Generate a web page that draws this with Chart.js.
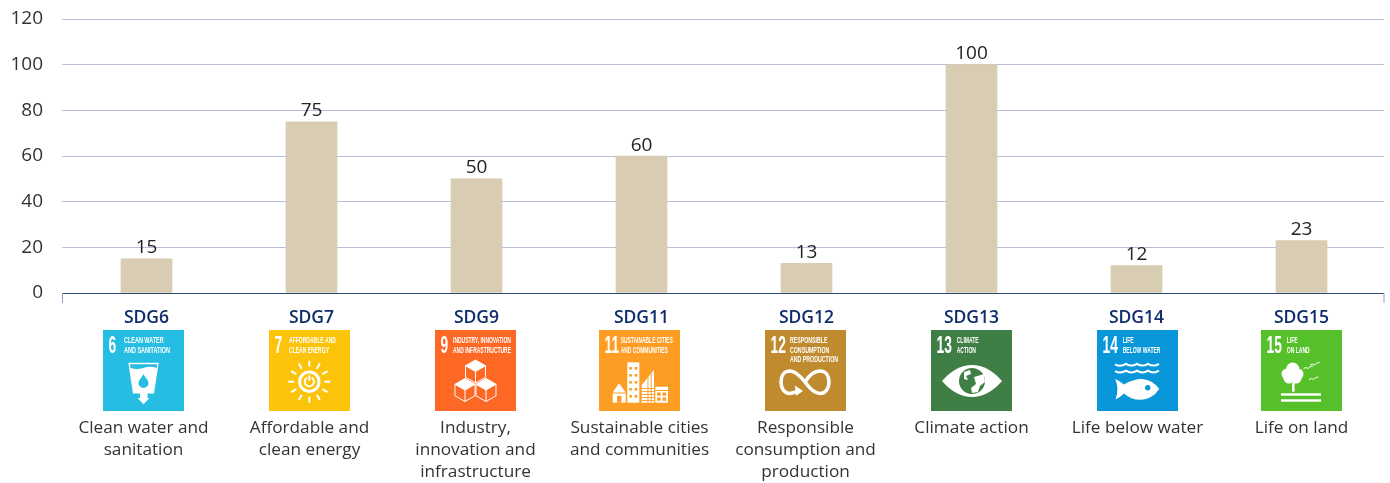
<!DOCTYPE html>
<html>
<head>
<meta charset="utf-8">
<title>SDG chart</title>
<script src="https://cdn.jsdelivr.net/npm/chart.js@4"></script>
<style>
    html, body { margin: 0; padding: 0; background: #fff; }
    #chart { position: absolute; left: 0; top: 0; }
</style>
</head>
<body>
<canvas id="chart" width="1390" height="483"></canvas>
<script>
const categories = ['SDG6', 'SDG7', 'SDG9', 'SDG11', 'SDG12', 'SDG13', 'SDG14', 'SDG15'];
const values = [15, 75, 50, 60, 13, 100, 12, 23];
const yTicks = [0, 20, 40, 60, 80, 100, 120];
const descriptions = [
    ['Clean water and', 'sanitation'],
    ['Affordable and', 'clean energy'],
    ['Industry,', 'innovation and', 'infrastructure'],
    ['Sustainable cities', 'and communities'],
    ['Responsible', 'consumption and', 'production'],
    ['Climate action'],
    ['Life below water'],
    ['Life on land']
];
const iconNumbers = ['6', '7', '9', '11', '12', '13', '14', '15'];
const iconTitles = [
    ['CLEAN WATER', 'AND SANITATION'],
    ['AFFORDABLE AND', 'CLEAN ENERGY'],
    ['INDUSTRY, INNOVATION', 'AND INFRASTRUCTURE'],
    ['SUSTAINABLE CITIES', 'AND COMMUNITIES'],
    ['RESPONSIBLE', 'CONSUMPTION', 'AND PRODUCTION'],
    ['CLIMATE', 'ACTION'],
    ['LIFE', 'BELOW WATER'],
    ['LIFE', 'ON LAND']
];
const iconColors = ['#26bde2', '#fcc30b', '#fd6925', '#fd9d24', '#bf8b2e', '#3f7e44', '#0a97d9', '#56c02b'];

// layout of the strip under the axis
const iconNudge = [-3, -2, -1, -2, -1, 0, 1, 0];
const iconTitleX = [21, 20, 18, 21.7, 25, 25.7, 25.7, 25.7];
const iconTitleWidth = [46, 47, 58, 52, 48, 22, 37.7, 23];
const iconSize = 81;
const iconTop = 330;

const TEXT_FONT = '"Open Sans", sans-serif';
const WHITE = '#ffffff';

function fitText(ctx, lines, x, firstY, step, targetWidth) {
    let widest = 0;
    lines.forEach(line => { widest = Math.max(widest, ctx.measureText(line).width); });
    const ratio = targetWidth / widest;
    lines.forEach((line, i) => {
        ctx.save();
        ctx.translate(x, firstY + i * step);
        ctx.scale(ratio, 1);
        ctx.fillText(line, 0, 0);
        ctx.restore();
    });
}

function drawGlass(ctx, color) {
    ctx.fillStyle = WHITE;
    ctx.beginPath();
    ctx.moveTo(25.3, 32.7); ctx.lineTo(55.7, 32.7); ctx.lineTo(51, 63.5);
    ctx.lineTo(44.5, 63.5); ctx.lineTo(44.5, 68); ctx.lineTo(46.5, 68); ctx.lineTo(40.5, 74.2);
    ctx.lineTo(34.5, 68); ctx.lineTo(37, 68); ctx.lineTo(37, 63.5); ctx.lineTo(30, 63.5);
    ctx.closePath();
    ctx.fill();
    ctx.fillStyle = color;
    ctx.beginPath();
    ctx.moveTo(27, 34.2); ctx.lineTo(54, 34.2); ctx.lineTo(53.6, 38);
    ctx.quadraticCurveTo(47, 35.5, 40.5, 38);
    ctx.quadraticCurveTo(34, 40, 27.5, 38);
    ctx.closePath();
    ctx.fill();
    // drop
    ctx.beginPath();
    ctx.moveTo(40.5, 44);
    ctx.bezierCurveTo(42, 47.5, 45.5, 50, 45.5, 53);
    ctx.arc(40.5, 53, 5, 0, Math.PI);
    ctx.bezierCurveTo(35.5, 50, 39, 47.5, 40.5, 44);
    ctx.fill();
}

function drawSun(ctx, color) {
    const cx = 40.3, cy = 51.7;
    ctx.strokeStyle = WHITE;
    ctx.lineWidth = 2;
    for (let i = 0; i < 12; i++) {
        const a = i * Math.PI / 6;
        ctx.beginPath();
        ctx.moveTo(cx + Math.cos(a) * 15, cy + Math.sin(a) * 15);
        ctx.lineTo(cx + Math.cos(a) * 21, cy + Math.sin(a) * 21);
        ctx.stroke();
    }
    ctx.lineWidth = 3;
    ctx.beginPath();
    ctx.arc(cx, cy, 9.7, 0, Math.PI * 2);
    ctx.stroke();
    ctx.lineWidth = 2;
    ctx.beginPath();
    ctx.arc(cx, cy, 4.6, -Math.PI / 3, Math.PI * 4 / 3);
    ctx.stroke();
    ctx.beginPath();
    ctx.moveTo(cx, cy - 6.5);
    ctx.lineTo(cx, cy - 1);
    ctx.stroke();
}

function drawCube(ctx, cx, cy, r) {
    const w = r * 0.87, h = r / 2;
    ctx.beginPath();
    ctx.moveTo(cx, cy - r); ctx.lineTo(cx + w, cy - h); ctx.lineTo(cx + w, cy + h);
    ctx.lineTo(cx, cy + r); ctx.lineTo(cx - w, cy + h); ctx.lineTo(cx - w, cy - h);
    ctx.closePath();
    ctx.moveTo(cx - w, cy - h); ctx.lineTo(cx, cy); ctx.lineTo(cx + w, cy - h);
    ctx.moveTo(cx, cy); ctx.lineTo(cx, cy + r);
    ctx.stroke();
    ctx.beginPath();
    ctx.moveTo(cx, cy - r); ctx.lineTo(cx + w, cy - h); ctx.lineTo(cx, cy); ctx.lineTo(cx - w, cy - h);
    ctx.closePath();
    ctx.fill();
}

function drawCubes(ctx) {
    ctx.strokeStyle = WHITE;
    ctx.fillStyle = WHITE;
    ctx.lineWidth = 1;
    drawCube(ctx, 40.5, 41.5, 11.5);
    drawCube(ctx, 30, 60, 11.5);
    drawCube(ctx, 51, 60, 11.5);
}

function drawCity(ctx, color) {
    ctx.fillStyle = WHITE;
    // house
    ctx.beginPath();
    ctx.moveTo(20, 53.3); ctx.lineTo(26.7, 62.5); ctx.lineTo(13.7, 62.5);
    ctx.closePath();
    ctx.fill();
    ctx.fillRect(13.7, 63.5, 13, 9.2);
    // tower
    ctx.fillRect(28.3, 32.3, 12, 40.4);
    // slanted block
    ctx.beginPath();
    ctx.moveTo(42.7, 55); ctx.lineTo(55, 40); ctx.lineTo(55, 72.7); ctx.lineTo(42.7, 72.7);
    ctx.closePath();
    ctx.fill();
    // low block
    ctx.fillRect(56.3, 56.7, 12.7, 16);
    ctx.fillStyle = color;
    ctx.fillRect(18, 66, 4.4, 6.7);
    for (let row = 0; row < 5; row++) {
        ctx.fillRect(30.3, 37 + row * 7, 2.6, 2.6);
        ctx.fillRect(35.7, 37 + row * 7, 2.6, 2.6);
    }
    for (let row = 0; row < 5; row++) {
        ctx.fillRect(42.7, 58 + row * 3, 12.3, 0.9);
    }
    ctx.fillRect(48.5, 44, 0.9, 29);
    ctx.fillRect(51.8, 44, 0.9, 29);
    ctx.fillRect(56.3, 60, 12.7, 1);
    for (let row = 0; row < 2; row++) {
        ctx.fillRect(58, 62.5 + row * 5, 3.7, 3.2);
        ctx.fillRect(63.5, 62.5 + row * 5, 3.7, 3.2);
    }
}

function drawInfinity(ctx) {
    ctx.strokeStyle = WHITE;
    ctx.fillStyle = WHITE;
    ctx.lineWidth = 3.6;
    ctx.beginPath();
    ctx.moveTo(40, 52);
    ctx.bezierCurveTo(46, 42, 52, 41, 55, 41);
    ctx.bezierCurveTo(61, 41, 64, 46, 64, 52);
    ctx.bezierCurveTo(64, 58, 61, 63.5, 55, 63.5);
    ctx.bezierCurveTo(50, 63.5, 45, 59, 40, 52);
    ctx.bezierCurveTo(36, 47, 31, 41, 25, 41);
    ctx.bezierCurveTo(19, 41, 16, 46, 16, 52);
    ctx.bezierCurveTo(16, 58, 19, 63.5, 25, 63.5);
    ctx.lineTo(35, 61);
    ctx.stroke();
    ctx.beginPath();
    ctx.moveTo(30, 55.5); ctx.lineTo(38, 61); ctx.lineTo(31, 65.8);
    ctx.closePath();
    ctx.fill();
}

function drawEye(ctx, color) {
    const cx = 41, cy = 51;
    ctx.fillStyle = WHITE;
    ctx.beginPath();
    ctx.moveTo(11, cy);
    ctx.quadraticCurveTo(25, 35, cx, 35);
    ctx.quadraticCurveTo(57, 35, 71, cy);
    ctx.quadraticCurveTo(57, 67, cx, 67);
    ctx.quadraticCurveTo(25, 67, 11, cy);
    ctx.fill();
    ctx.fillStyle = color;
    ctx.beginPath();
    ctx.arc(cx, cy, 13, 0, Math.PI * 2);
    ctx.fill();
    // continents
    ctx.fillStyle = WHITE;
    ctx.beginPath();
    ctx.moveTo(33, 42); ctx.lineTo(39, 40); ctx.lineTo(40, 44); ctx.lineTo(35, 46); ctx.lineTo(37, 50); ctx.lineTo(33, 49);
    ctx.closePath();
    ctx.fill();
    ctx.beginPath();
    ctx.moveTo(43, 47); ctx.lineTo(53, 44); ctx.lineTo(54, 52); ctx.lineTo(49, 56); ctx.lineTo(47, 62); ctx.lineTo(41, 63);
    ctx.lineTo(40, 58); ctx.lineTo(45, 54);
    ctx.closePath();
    ctx.fill();
}

function drawWave(ctx, y) {
    ctx.beginPath();
    ctx.moveTo(18, y);
    for (let i = 0; i < 4; i++) {
        ctx.quadraticCurveTo(23.5 + i * 11, y + 3, 29 + i * 11, y - 0.5);
    }
    ctx.stroke();
}

function drawFish(ctx, color) {
    ctx.strokeStyle = WHITE;
    ctx.lineWidth = 2;
    drawWave(ctx, 34.3);
    drawWave(ctx, 41.2);
    ctx.fillStyle = WHITE;
    ctx.beginPath();
    ctx.moveTo(18.3, 49);
    ctx.quadraticCurveTo(23, 51, 27, 54.5);
    ctx.quadraticCurveTo(36, 49, 45, 49);
    ctx.quadraticCurveTo(56, 50, 62.3, 59);
    ctx.quadraticCurveTo(55, 69.5, 44, 69.8);
    ctx.quadraticCurveTo(34, 70, 27, 63.5);
    ctx.quadraticCurveTo(23, 67.5, 18.5, 69.5);
    ctx.quadraticCurveTo(22.5, 59, 18.3, 49);
    ctx.fill();
    ctx.fillStyle = color;
    ctx.beginPath();
    ctx.arc(50.7, 57.7, 2.7, 0, Math.PI * 2);
    ctx.fill();
}

function drawBird(ctx, x, y) {
    ctx.beginPath();
    ctx.moveTo(x - 4.5, y + 1);
    ctx.quadraticCurveTo(x - 1.5, y - 1, x, y + 1);
    ctx.quadraticCurveTo(x + 2, y - 1.5, x + 5, y - 1.5);
    ctx.stroke();
}

function drawTree(ctx) {
    ctx.fillStyle = WHITE;
    ctx.strokeStyle = WHITE;
    [[31.7, 39, 6.5], [26, 44, 5.5], [37, 44, 5.5], [28, 48, 5.5], [35, 48, 5.5], [31.7, 45, 7]].forEach(c => {
        ctx.beginPath();
        ctx.arc(c[0], c[1], c[2], 0, Math.PI * 2);
        ctx.fill();
    });
    ctx.fillRect(31, 53, 2.6, 8.7);
    ctx.fillRect(20, 63.3, 40, 2.4);
    ctx.fillRect(20, 69.3, 40, 2.4);
    ctx.lineWidth = 1;
    drawBird(ctx, 47, 37.5);
    drawBird(ctx, 53.5, 34);
    drawBird(ctx, 52.5, 48.5);
}

const iconArt = [drawGlass, drawSun, drawCubes, drawCity, drawInfinity, drawEye, drawFish, drawTree];

function drawIcon(ctx, i, left, top) {
    const color = iconColors[i];
    ctx.save();
    ctx.translate(left, top);
    ctx.fillStyle = color;
    ctx.fillRect(0, 0, iconSize, iconSize);

    ctx.fillStyle = WHITE;
    ctx.textAlign = 'left';
    ctx.textBaseline = 'alphabetic';
    ctx.save();
    ctx.translate(5.5, 23);
    ctx.scale(0.6, 1);
    ctx.font = 'bold 23px "Liberation Sans", sans-serif';
    ctx.fillText(iconNumbers[i], 0, 0);
    ctx.restore();

    ctx.font = 'bold 8.4px "Liberation Sans", sans-serif';
    fitText(ctx, iconTitles[i], iconTitleX[i], 13, 9.6, iconTitleWidth[i]);

    iconArt[i](ctx, color);
    ctx.restore();
}

// value labels above the bars
const valueLabels = {
    id: 'valueLabels',
    afterDatasetsDraw(chart) {
        const ctx = chart.ctx;
        ctx.save();
        ctx.font = '19px ' + TEXT_FONT;
        ctx.fillStyle = '#222222';
        ctx.textAlign = 'center';
        ctx.textBaseline = 'alphabetic';
        chart.getDatasetMeta(0).data.forEach((bar, i) => {
            ctx.fillText(values[i], bar.x, bar.y - 5.5);
        });
        ctx.restore();
    }
};

// icons and descriptions hanging under each category, plus the two axis end caps
const sdgStrip = {
    id: 'sdgStrip',
    afterDraw(chart) {
        const ctx = chart.ctx;
        const xScale = chart.scales.x;
        const area = chart.chartArea;

        ctx.save();
        ctx.strokeStyle = '#8fa0c2';
        ctx.lineWidth = 1;
        [area.left - 1.5, area.right].forEach(x => {
            ctx.beginPath();
            ctx.moveTo(x, area.bottom);
            ctx.lineTo(x, area.bottom + 10);
            ctx.stroke();
        });

        categories.forEach((name, i) => {
            const center = xScale.getPixelForValue(i) + iconNudge[i];
            drawIcon(ctx, i, Math.round(center - iconSize / 2), iconTop);

            ctx.font = '17.2px ' + TEXT_FONT;
            ctx.fillStyle = '#333333';
            ctx.textAlign = 'center';
            ctx.textBaseline = 'alphabetic';
            descriptions[i].forEach((line, n) => {
                ctx.fillText(line, center, 433 + n * 22);
            });
        });
        ctx.restore();
    }
};

document.addEventListener('DOMContentLoaded', function() {
    const ctx = document.getElementById('chart').getContext('2d');

    new Chart(ctx, {
        type: 'bar',
        data: {
            labels: categories,
            datasets: [{
                data: values,
                backgroundColor: '#d8ccb2',
                barThickness: 51
            }]
        },
        options: {
            responsive: false,
            animation: false,
            layout: { padding: { top: 19, right: 6, left: 0, bottom: 0 } },
            plugins: {
                legend: { display: false },
                title: { display: false },
                tooltip: { enabled: false }
            },
            scales: {
                x: {
                    border: { display: false },
                    grid: { display: false },
                    ticks: {
                        color: '#0f2d6b',
                        padding: 7,
                        maxRotation: 0,
                        autoSkip: false,
                        font: { family: 'Open Sans', size: 17.5, weight: '600' }
                    },
                    afterFit(scale) { scale.height = 190; }
                },
                y: {
                    min: 0,
                    max: 120,
                    border: { display: false },
                    afterBuildTicks(scale) { scale.ticks = yTicks.map(v => ({ value: v })); },
                    afterFit(scale) {
                        scale.width = 64;
                        // tick padding would otherwise push the plot top down
                        scale.paddingTop = 0;
                        scale.paddingBottom = 0;
                    },
                    grid: {
                        tickLength: 2,
                        color: c => c.tick.value === 0 ? '#2f4a78' : '#b6bfd4',
                        tickColor: c => c.tick.value === 0 ? '#2f4a78' : '#b6bfd4'
                    },
                    ticks: {
                        color: '#333333',
                        padding: 19,
                        font: { family: 'Open Sans', size: 19 }
                    }
                }
            }
        },
        plugins: [valueLabels, sdgStrip]
    });
});
</script>
</body>
</html>
